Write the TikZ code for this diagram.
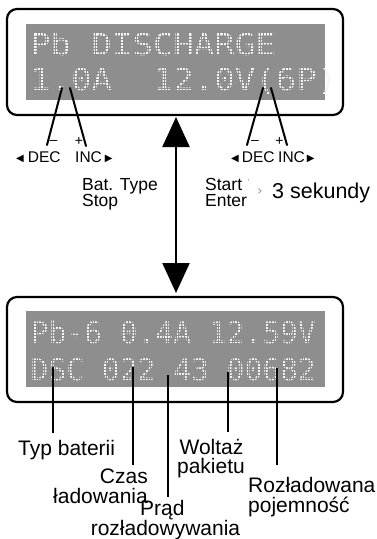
\documentclass[tikz,border=0pt]{standalone}
\usepackage{fontspec}
\setmainfont{Liberation Sans}
\newfontfamily\lcdfont{DejaVu Sans Mono}
\newfontfamily\symfont{DejaVu Sans}
\usetikzlibrary{arrows.meta}
\definecolor{lcdbg}{HTML}{8E8E8E}
\definecolor{lcdfg}{HTML}{F7F7F7}
\definecolor{faint}{HTML}{9A9A9A}
\newcommand{\ltri}{{\symfont\fontsize{10}{10}\selectfont\raisebox{0.3pt}{◀}}}
\newcommand{\rtri}{{\symfont\fontsize{10}{10}\selectfont\raisebox{0.3pt}{▶}}}
\begin{document}
\begin{tikzpicture}[x=1pt,y=-1pt,
  frame/.style={draw=black,line width=2.2pt,rounded corners=10pt,minimum width=336pt,inner sep=0pt},
  lcd/.style={fill=lcdbg,minimum width=299pt,minimum height=76pt,inner sep=0pt},
  lcdtop/.style={text=lcdfg,anchor=base west,inner sep=0pt,font=\lcdfont\fontsize{34}{34}\selectfont},
  lcdbot/.style={text=lcdfg,anchor=base west,inner sep=0pt,font=\lcdfont\fontsize{29.6}{29.6}\selectfont},
  dotgrid/.style={draw=lcdbg,line width=0.6pt},
  pointer/.style={line width=2pt,line cap=round},
  lead/.style={line width=2.5pt},
  keylab/.style={anchor=base west,inner sep=0pt,font=\fontsize{15.5}{15.5}\selectfont},
  signlab/.style={anchor=center,inner sep=0pt,font=\fontsize{14}{14}\selectfont},
  smalllab/.style={anchor=base west,inner sep=0pt,font=\fontsize{17.5}{17.5}\selectfont},
  biglab/.style={inner sep=0pt,font=\fontsize{21}{21}\selectfont},
  dblarrow/.style={line width=2.2pt,{Triangle[width=27pt,length=30pt]}-{Triangle[width=27pt,length=30pt]}}
]
\useasboundingbox (0,0) rectangle (376,539);

% ---- top display ----
\node[frame,minimum height=106pt] (topbox) at (175,62) {};
\node[lcd] (toplcd) at (175.5,62) {};
\node[lcdtop] (t1) at (30,55) {\scalebox{1}[0.89]{Pb DISCHARGE}};
\node[lcdtop] (t2) at (30,90) {\scalebox{1}[0.89]{1.0A~~12.0V(6P)}};
\begin{scope}
  \clip (toplcd.north west) rectangle (toplcd.south east);
  \foreach \yy in {26.5,29.6,...,100} {\draw[dotgrid] (26,\yy) -- (325,\yy);}
  \foreach \xx in {27.5,30.6,...,325} {\draw[dotgrid] (\xx,24) -- (\xx,100);}
\end{scope}

% pointers of top display
\coordinate (p1a) at (62,88);  \coordinate (p1b) at (47,145);
\coordinate (p2a) at (70,88);  \coordinate (p2b) at (86,146);
\coordinate (p3a) at (263,88); \coordinate (p3b) at (247,145);
\coordinate (p4a) at (271,88); \coordinate (p4b) at (287,145);
\draw[pointer] (p1a) -- (p1b);
\draw[pointer] (p2a) -- (p2b);
\draw[pointer] (p3a) -- (p3b);
\draw[pointer] (p4a) -- (p4b);

\node[signlab] (m1) at (53.5,142) {–};
\node[signlab] (s1) at (79,141) {+};
\node[signlab] (m2) at (255,142) {–};
\node[signlab] (s2) at (279.5,141) {+};

\node[keylab] (dec1) at (16,162) {\ltri\hspace{4pt}DEC};
\node[keylab] (inc1) at (75,162) {INC\hspace{3pt}\rtri};
\node[keylab] (dec2) at (231,162) {\ltri\hspace{3pt}DEC};
\node[keylab] (inc2) at (278,162) {INC\hspace{2pt}\rtri};

\node[smalllab] (bat) at (82,190) {Bat. Type};
\node[smalllab] (stop) at (82,206) {Stop};
\node[smalllab] (start) at (205,190) {Start};
\node[smalllab] (enter) at (205,206) {Enter};
\node[inner sep=0pt,text=faint,font=\fontsize{9}{9}\selectfont] (tick) at (248.5,182) {'};
\node[inner sep=0pt,text=faint,font=\symfont\fontsize{14}{14}\selectfont] (gt) at (260,192) {›};
\node[inner sep=0pt,anchor=base west,font=\fontsize{21.5}{21.5}\selectfont] (sek) at (272,198) {3 sekundy};

% ---- double arrow ----
\coordinate (atop) at (176,117);
\coordinate (abot) at (176,293);
\draw[dblarrow] (atop) -- (abot);

% ---- bottom display ----
\node[frame,minimum height=105pt] (botbox) at (175,349.5) {};
\node[lcd] (botlcd) at (175.5,349) {};
\node[lcdbot] (b1) at (30.5,343) {Pb-6 0.4A 12.59V};
\node[lcdbot] (b2) at (30.5,380) {DSC 022 43 00682};
\begin{scope}
  \clip (botlcd.north west) rectangle (botlcd.south east);
  \foreach \yy in {313.5,316.6,...,387} {\draw[dotgrid] (26,\yy) -- (325,\yy);}
  \foreach \xx in {27.5,30.3,...,325} {\draw[dotgrid] (\xx,311) -- (\xx,387);}
\end{scope}

% labels of bottom display
\node[biglab,anchor=base west] (typ) at (18,455) {Typ baterii};
\node[biglab,anchor=base east] (czas) at (148,483) {Czas};
\node[biglab,anchor=base east] (lad) at (148,503) {ładowania};
\node[biglab,anchor=base west] (prad) at (140,515) {Prąd};
\node[biglab,anchor=base] (roz) at (165.5,535) {rozładowywania};
\node[biglab,anchor=base] (wolt) at (211.5,454) {Woltaż};
\node[biglab,anchor=base] (pak) at (211,473) {pakietu};
\node[biglab,anchor=base west] (rozl) at (248,492) {Rozładowana};
\node[biglab,anchor=base west] (poj) at (248,512) {pojemność};

\coordinate (l1a) at (53,367);  \coordinate (l1b) at (53,433);
\coordinate (l2a) at (133,367); \coordinate (l2b) at (133,465);
\coordinate (l3a) at (168,375); \coordinate (l3b) at (168,497);
\coordinate (l4a) at (228,372); \coordinate (l4b) at (228,432);
\coordinate (l5a) at (277,368); \coordinate (l5b) at (277,465);
\draw[lead] (l1a) -- (l1b);
\draw[lead] (l2a) -- (l2b);
\draw[lead] (l3a) -- (l3b);
\draw[lead] (l4a) -- (l4b);
\draw[lead] (l5a) -- (l5b);
\end{tikzpicture}
\end{document}
